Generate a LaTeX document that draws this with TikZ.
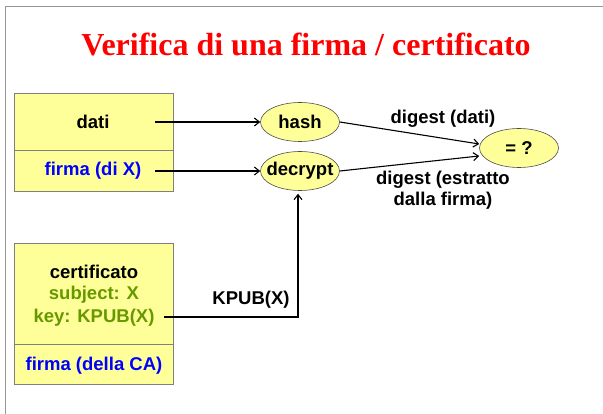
\documentclass[tikz,border=0pt]{standalone}
\usepackage{fontspec}
\setmainfont{Liberation Sans}
\newfontfamily\titlefont{Liberation Serif}
\usetikzlibrary{arrows.meta,shapes.geometric}
\definecolor{boxyellow}{RGB}{255,255,153}
\definecolor{boxedge}{RGB}{128,128,128}
\definecolor{txtgreen}{RGB}{102,153,0}
\definecolor{txtblue}{RGB}{0,0,255}
\definecolor{framegrey}{RGB}{150,150,150}
\tikzset{
  base/.style={font=\fontsize{18.5}{21}\selectfont\bfseries},
  databox/.style={draw=boxedge, fill=boxyellow, line width=0.8pt},
  oval/.style={ellipse, draw=black!70, fill=boxyellow, line width=0.6pt, minimum width=79pt, minimum height=39pt, inner sep=0pt},
  lbl/.style={base, align=center},
  conn/.style={line width=1.1pt, -{Straight Barb[length=5pt,width=8pt,line width=1.1pt]}},
}
\begin{document}
\begin{tikzpicture}[x=1pt,y=-1pt]
\useasboundingbox (0,0) rectangle (603,414);
\fill[white] (0,0) rectangle (603,414);
% slide frame
\draw[framegrey, line width=1.5pt] (5.5,414) -- (5.5,6.5) -- (603,6.5);
% title
\node[text=red, font=\titlefont\fontsize{32}{36}\selectfont\bfseries] (title) at (306,44) {Verifica di una firma / certificato};
% first box
\draw[databox] (14,93) rectangle (173,191);
\draw[boxedge, line width=0.8pt] (14,150) -- (173,150);
\node[lbl] (dati) at (93,122) {dati};
\node[lbl, text=txtblue] (firma) at (93,171) {firma (di X)};
% second box
\draw[databox] (14,243) rectangle (173,384);
\draw[boxedge, line width=0.8pt] (14,344) -- (173,344);
\node[lbl] (cert) at (94,272) {certificato};
\node[lbl, text=txtgreen] (subj) at (94,295) {subject: X};
\node[lbl, text=txtgreen] (key) at (94,318) {key: KPUB(X)};
\node[lbl, text=txtblue] (firmaca) at (94,366) {firma (della CA)};
% ovals
\node[oval] (hash) at (300,122) {};
\node[lbl] (hasht) at (hash) {hash};
\node[oval] (decrypt) at (300,171) {};
\node[lbl] (decryptt) at (decrypt) {decrypt};
\node[oval] (eq) at (519,148) {};
\node[lbl] (eqt) at (eq) {= ?};
% connectors
\coordinate (datiend) at (155,122);
\coordinate (firmaend) at (155,171);
\coordinate (keyend) at (164,317);
\coordinate (corner) at (298,317);
\draw[conn] (datiend) -- (hash.west);
\draw[conn] (firmaend) -- (decrypt.west);
\draw[conn] (hash.east) -- ([yshift=4pt]eq.west);
\draw[conn] (decrypt.east) -- ([yshift=-8pt]eq.west);
\draw[conn] (keyend) -- (corner) -- ([yshift=-3pt]decrypt.south -| corner);
% labels
\node[lbl] (ldati) at (443,119) {digest (dati)};
\node[lbl] (lestr) at (443,190) {digest (estratto\\dalla firma)};
\node[lbl] (lkpub) at (251,300) {KPUB(X)};
\end{tikzpicture}
\end{document}
